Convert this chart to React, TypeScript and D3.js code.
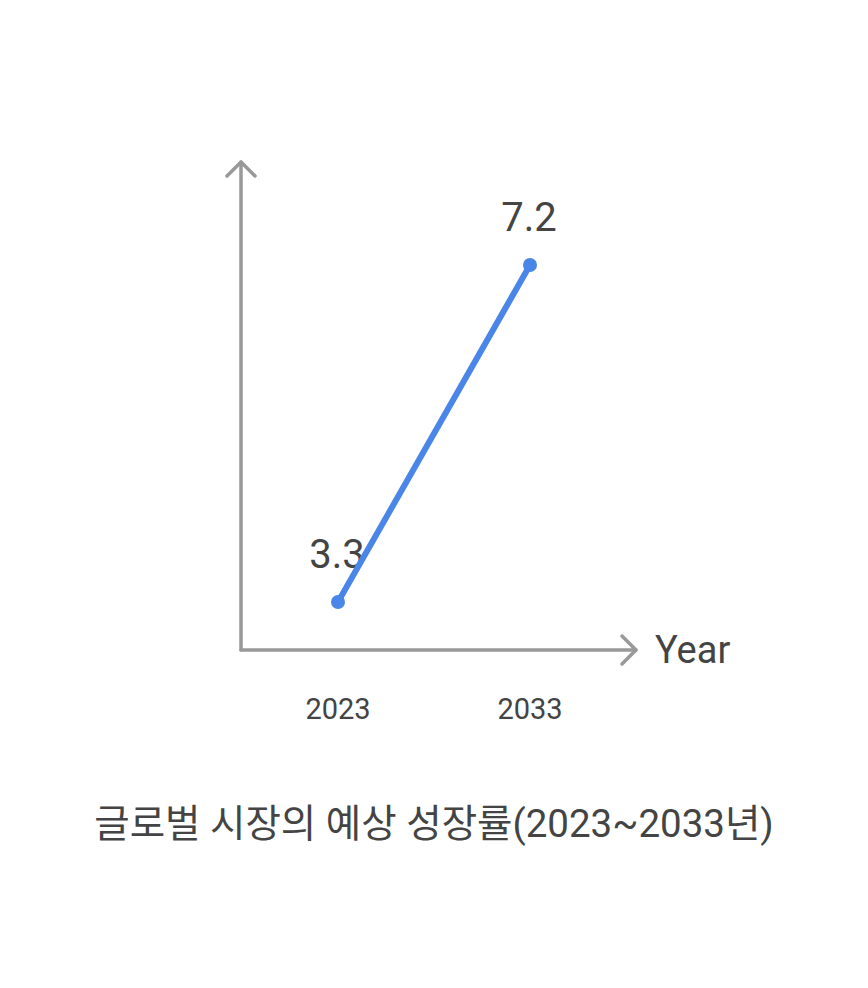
import React from "react";
import * as d3 from "d3";

const years = [2023, 2033];
const values = [3.3, 7.2];
const xLabel = "Year";
const title = "글로벌 시장의 예상 성장률(2023~2033년)";

const W = 868;
const H = 988;
const axisX = 241;
const axisY = 650;
const axisTop = 162;
const axisRight = 636;

export default function App() {
  const x = d3.scaleLinear().domain([2023, 2033]).range([338, 530]);
  const y = d3.scaleLinear().domain([3.3, 7.2]).range([602, 265]);
  const line = d3
    .line<number>()
    .x((_, i) => x(years[i]))
    .y((d) => y(d));
  const font = "Roboto, 'Noto Sans CJK KR', sans-serif";
  const axisColor = "#999999";
  const textColor = "#444444";
  const blue = "#4a86e8";
  const arm = 14;
  return (
    <svg
      width={W}
      height={H}
      style={{ position: "absolute", left: 0, top: 0, background: "#fff" }}
      fontFamily={font}
    >
      <g stroke={axisColor} strokeWidth={3.5} fill="none" strokeLinecap="round" strokeLinejoin="round">
        <line x1={axisX} y1={axisY} x2={axisX} y2={axisTop} />
        <polyline points={`${axisX - arm},${axisTop + arm} ${axisX},${axisTop} ${axisX + arm},${axisTop + arm}`} />
        <line x1={axisX} y1={axisY} x2={axisRight} y2={axisY} />
        <polyline points={`${axisRight - arm},${axisY - arm} ${axisRight},${axisY} ${axisRight - arm},${axisY + arm}`} />
      </g>
      <text x={655} y={663} fontSize={38} fill={textColor}>{xLabel}</text>
      {years.map((yr) => (
        <text key={yr} x={x(yr)} y={719} fontSize={29} fill={textColor} textAnchor="middle">
          {yr}
        </text>
      ))}
      {values.map((v, i) => (
        <text key={i} x={x(years[i]) - 1} y={y(v) - 34} fontSize={40} fill={textColor} textAnchor="middle">
          {v.toFixed(1)}
        </text>
      ))}
      <path d={line(values) || ""} stroke={blue} strokeWidth={6} fill="none" strokeLinecap="round" />
      {values.map((v, i) => (
        <circle key={i} cx={x(years[i])} cy={y(v)} r={7} fill={blue} />
      ))}
      <text x={W / 2} y={837} fontSize={38.5} fill={textColor} textAnchor="middle">
        {title}
      </text>
    </svg>
  );
}
